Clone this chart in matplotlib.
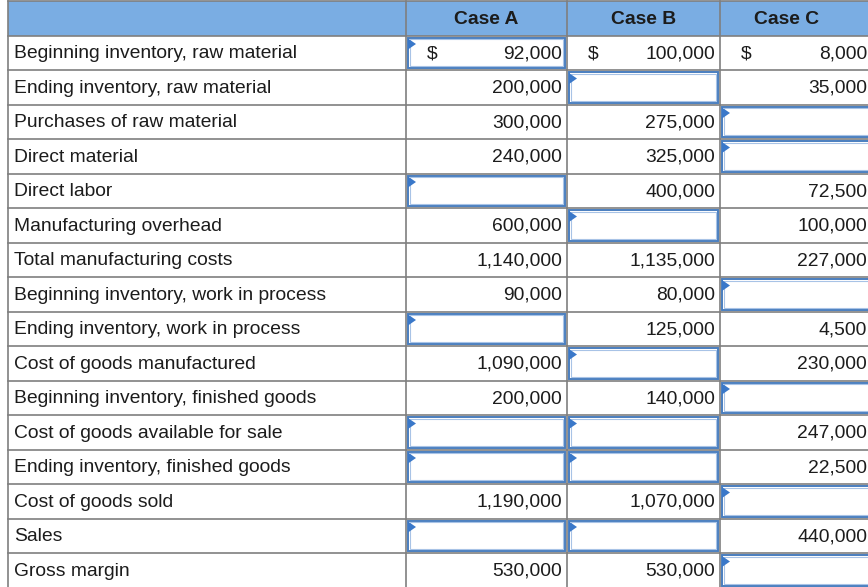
import matplotlib
matplotlib.use("Agg")
import matplotlib.pyplot as plt
from matplotlib.patches import Rectangle, Polygon

# ---- data ----
headers = ["Case A", "Case B", "Case C"]
labels = [
    "Beginning inventory, raw material",
    "Ending inventory, raw material",
    "Purchases of raw material",
    "Direct material",
    "Direct labor",
    "Manufacturing overhead",
    "Total manufacturing costs",
    "Beginning inventory, work in process",
    "Ending inventory, work in process",
    "Cost of goods manufactured",
    "Beginning inventory, finished goods",
    "Cost of goods available for sale",
    "Ending inventory, finished goods",
    "Cost of goods sold",
    "Sales",
    "Gross margin",
]
case_a = ["92,000", "200,000", "300,000", "240,000", None, "600,000", "1,140,000",
          "90,000", None, "1,090,000", "200,000", None, None, "1,190,000", None, "530,000"]
case_b = ["100,000", None, "275,000", "325,000", "400,000", None, "1,135,000",
          "80,000", "125,000", None, "140,000", None, None, "1,070,000", None, "530,000"]
case_c = ["8,000", "35,000", None, None, "72,500", "100,000", "227,000",
          None, "4,500", "230,000", None, "247,000", "22,500", None, "440,000", None]
# input boxes (row indices) for each case
boxes_a = [0, 4, 8, 11, 12, 14]
boxes_b = [1, 5, 9, 11, 12, 14]
boxes_c = [2, 3, 7, 10, 13, 15]
dollar_row = 0

# ---- layout (pixels) ----
W, H = 868, 587
col_x = [8, 406, 567, 720, 880]
header_centers = [486.5, 643.5, 787]
top = 1
header_bot = 35.5
row_h = 34.5

fig = plt.figure(figsize=(W / 100, H / 100), dpi=100)
ax = fig.add_axes([0, 0, 1, 1])
ax.set_xlim(0, W)
ax.set_ylim(H, 0)
ax.axis("off")

FONT = "Liberation Sans"
FS = 13.9
txt_col = "#1c1c1c"
grid_col = "#7f7f7f"
box_col = "#4a7ebf"
box_inner = "#a8c3e6"

# header fill
ax.add_patch(Rectangle((col_x[0], top), W - col_x[0] + 20, header_bot - top,
                       facecolor="#7aade3", edgecolor="none", zorder=0))

n = len(labels)
row_tops = [header_bot + i * row_h for i in range(n + 1)]

# grid lines
ax.plot([col_x[0], W + 5], [top, top], color=grid_col, lw=1.2, zorder=2)
for y in row_tops:
    ax.plot([col_x[0], W + 5], [y, y], color=grid_col, lw=1.2, zorder=2)
for x in col_x[:4]:
    ax.plot([x, x], [top, H + 5], color=grid_col, lw=1.2, zorder=2)

# headers
for j, h in enumerate(headers):
    ax.text(header_centers[j], (top + header_bot) / 2 + 1, h, ha="center", va="center",
            fontsize=FS, fontweight="bold", family=FONT, color=txt_col, zorder=3)

# labels
for i, lab in enumerate(labels):
    yc = row_tops[i] + row_h / 2 + 1.2
    ax.text(col_x[0] + 6, yc, lab, ha="left", va="center", fontsize=FS,
            family=FONT, color=txt_col, zorder=3)

cases = [case_a, case_b, case_c]
boxes = [boxes_a, boxes_b, boxes_c]
for j in range(3):
    x0 = col_x[j + 1]
    x1 = col_x[j + 2]
    right_edge = min(x1, W)
    for i in range(n):
        y0 = row_tops[i]
        yc = y0 + row_h / 2 + 1.2
        if i in boxes[j]:
            bx0, by0 = x0 + 2, y0 + 2
            bw, bh = (x1 - x0) - 4, row_h - 4
            ax.add_patch(Rectangle((bx0, by0), bw, bh, facecolor="white",
                                   edgecolor=box_col, lw=1.4, zorder=4))
            ax.add_patch(Rectangle((bx0 + 1.6, by0 + 1.6), bw - 3.2, bh - 3.2,
                                   facecolor="none", edgecolor=box_inner, lw=0.8, zorder=4))
            ax.add_patch(Polygon([[bx0, by0 + 1], [bx0, by0 + 12], [bx0 + 8, by0 + 6.5]],
                                 closed=True, facecolor="#3a78c9", edgecolor="none", zorder=5))
        val = cases[j][i]
        if val is not None:
            ax.text(right_edge - 5 if j < 2 else W - 1, yc, val, ha="right", va="center",
                    fontsize=FS, family=FONT, color=txt_col, zorder=6)
        if i == dollar_row:
            ax.text(x0 + 26, yc, "$", ha="center", va="center", fontsize=FS,
                    family=FONT, color=txt_col, zorder=6)

fig.savefig("out.png", dpi=100)
